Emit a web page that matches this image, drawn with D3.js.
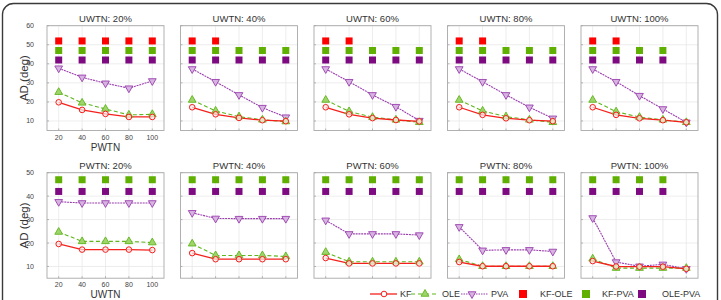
<!DOCTYPE html>
<html><head><meta charset="utf-8">
<script src="https://cdn.jsdelivr.net/npm/d3@7"></script>
<style>body{margin:0;background:#fff}svg{display:block;font-family:"Liberation Sans",Arial,sans-serif}</style>
</head><body><svg id="c" width="721" height="300"></svg>
<script>
const xVals = [20, 40, 60, 80, 100];
const topTitles = ["UWTN: 20%", "UWTN: 40%", "UWTN: 60%", "UWTN: 80%", "UWTN: 100%"];
const botTitles = ["PWTN: 20%", "PWTN: 40%", "PWTN: 60%", "PWTN: 80%", "PWTN: 100%"];
const topYTicks = [10, 20, 30, 40, 50, 60];
const botYTicks = [10, 20, 30, 40, 50];

const topKF = [
  [19.8, 15.8, 13.7, 12.1, 12.1],
  [17.2, 13.5, 11.6, 10.4, 9.9],
  [17.2, 13.5, 11.5, 10.5, 9.8],
  [17.2, 13.2, 11.4, 10.4, 9.9],
  [17.2, 13.2, 11.4, 10.4, 9.3]];
const topOLE = [
  [25.1, 19.5, 16.3, 13.2, 13.5],
  [21.0, 15.3, 12.3, 10.6, 9.7],
  [21.0, 15.0, 12.0, 10.6, 9.3],
  [21.0, 15.3, 12.3, 10.6, 9.3],
  [21.0, 14.9, 12.0, 10.6, 9.3]];
const topPVA = [
  [37.7, 32.9, 29.8, 27.2, 31.0],
  [37.3, 30.6, 23.7, 17.0, 12.0],
  [37.3, 30.6, 23.7, 17.5, 10.2],
  [37.3, 30.6, 23.7, 17.2, 11.4],
  [37.3, 30.6, 23.3, 16.3, 9.3]];
const botKF = [
  [19.6, 17.2, 17.2, 17.2, 17.0],
  [15.7, 13.1, 13.1, 13.1, 13.1],
  [13.6, 11.3, 11.3, 11.3, 11.3],
  [11.9, 10.1, 10.1, 10.1, 10.1],
  [12.3, 10.0, 9.9, 9.9, 9.0]];
const botOLE = [
  [24.7, 20.7, 20.7, 20.7, 20.2],
  [19.7, 14.7, 14.7, 14.7, 14.3],
  [16.1, 12.0, 12.0, 12.0, 12.0],
  [13.0, 10.1, 10.1, 10.1, 10.1],
  [13.3, 9.3, 9.3, 9.3, 9.3]];
const botPVA = [
  [37.6, 37.1, 37.1, 37.1, 37.1],
  [32.9, 30.5, 30.4, 30.4, 30.4],
  [29.7, 23.9, 23.9, 23.9, 23.4],
  [26.9, 16.9, 17.1, 17.1, 16.4],
  [30.7, 11.9, 10.1, 10.9, 9.0]];

// significance markers: x positions where each pair differs
const topSigKFOLE = [[20,40,60,80,100],[20,40],[20,40],[20,40],[20,40]];
const topSigKFPVA = [[20,40,60,80,100],[20,40,60,80,100],[20,40,60,80,100],[20,40,60,80,100],[20,40,60,80]];
const topSigOLEPVA = [[20,40,60,80,100],[20,40,60,80,100],[20,40,60,80,100],[20,40,60,80,100],[20,40,60,80]];
const botSigKFOLE = [[],[],[],[],[]];
const botSigKFPVA = [[20,40,60,80,100],[20,40,60,80,100],[20,40,60,80,100],[20,40,60,80,100],[20,40,60,80]];
const botSigOLEPVA = [[20,40,60,80,100],[20,40,60,80,100],[20,40,60,80,100],[20,40,60,80,100],[20,40,60,80]];
const sigLevels = [52, 47, 42]; // KF-OLE, KF-PVA, OLE-PVA

const legendNames = ["KF", "OLE", "PVA", "KF-OLE", "KF-PVA", "OLE-PVA"];

const C = {kf: "#f5201c", ole: "#5fb51a", pva: "#9a3fae",
  sq: ["#ff0000", "#5fb000", "#7e0a82"]};

const svg = d3.select("#c");
svg.append("rect").attr("x", 2.5).attr("y", 3.5).attr("width", 715).attr("height", 320)
  .attr("rx", 11).attr("fill", "none").attr("stroke", "#3a3a3a").attr("stroke-width", 1.4);

const panelW = 117, left0 = 47, step = 133.5;
const rows = [
  {top: 25.7, bottom: 130.5, ymax: 60, ticks: topYTicks, titles: topTitles,
   kf: topKF, ole: topOLE, pva: topPVA, sig: [topSigKFOLE, topSigKFPVA, topSigOLEPVA], xlabel: "PWTN"},
  {top: 172.7, bottom: 278.2, ymax: 50, ticks: botYTicks, titles: botTitles,
   kf: botKF, ole: botOLE, pva: botPVA, sig: [botSigKFOLE, botSigKFPVA, botSigOLEPVA], xlabel: "UWTN"}
];

const tri = d3.symbol().type(d3.symbolTriangle).size(26);

rows.forEach((row, ri) => {
  const y = d3.scaleLinear().domain([5, row.ymax]).range([row.bottom, row.top]);
  for (let p = 0; p < 5; p++) {
    const x0 = left0 + p * step;
    const x = d3.scaleLinear().domain([10, 110]).range([x0, x0 + panelW]);
    const g = svg.append("g");
    g.selectAll(".gx").data(xVals).join("line")
      .attr("x1", d => x(d)).attr("x2", d => x(d)).attr("y1", row.top).attr("y2", row.bottom)
      .attr("stroke", "#e9e9e9").attr("stroke-width", 0.8);
    g.selectAll(".gy").data(row.ticks).join("line")
      .attr("x1", x0).attr("x2", x0 + panelW).attr("y1", d => y(d)).attr("y2", d => y(d))
      .attr("stroke", "#e9e9e9").attr("stroke-width", 0.8);
    g.selectAll(".tx").data(xVals).join("line")
      .attr("x1", d => x(d)).attr("x2", d => x(d)).attr("y1", row.bottom).attr("y2", row.bottom - 2)
      .attr("stroke", "#999").attr("stroke-width", 0.7);
    g.selectAll(".ty").data(row.ticks).join("line")
      .attr("x1", x0).attr("x2", x0 + 2).attr("y1", d => y(d)).attr("y2", d => y(d))
      .attr("stroke", "#999").attr("stroke-width", 0.7);
    g.append("rect").attr("x", x0).attr("y", row.top).attr("width", panelW)
      .attr("height", row.bottom - row.top).attr("fill", "none").attr("stroke", "#a8a8a8").attr("stroke-width", 0.9);
    g.append("text").attr("x", x0 + panelW / 2).attr("y", row.top - 4).attr("text-anchor", "middle")
      .attr("font-size", 9.5).attr("fill", "#333").text(row.titles[p]);
    if (p === 0) {
      g.selectAll(".yl").data(row.ticks).join("text")
        .attr("x", x0 - 13).attr("y", d => y(d) + 2.5).attr("text-anchor", "end")
        .attr("font-size", 7).attr("fill", "#444").text(d => d);
      g.selectAll(".xl").data(xVals).join("text")
        .attr("x", d => x(d)).attr("y", row.bottom + 9).attr("text-anchor", "middle")
        .attr("font-size", 7).attr("fill", "#444").text(d => d);
      g.append("text").attr("x", x0 + panelW / 2).attr("y", row.bottom + 20).attr("text-anchor", "middle")
        .attr("font-size", 10).attr("fill", "#333").text(row.xlabel);
      const cy = (row.top + row.bottom) / 2;
      g.append("text").attr("transform", `translate(${x0 - 19},${cy}) rotate(-90)`)
        .attr("text-anchor", "middle").attr("font-size", 11.5).attr("fill", "#333").text("AD (deg)");
    }
    row.sig.forEach((arr, si) => {
      g.selectAll(".sq" + si).data(arr[p]).join("rect")
        .attr("x", d => x(d) - 3.5).attr("y", y(sigLevels[si]) - 3.5).attr("width", 7).attr("height", 7)
        .attr("fill", C.sq[si]);
    });
    const line = d3.line().x((d, i) => x(xVals[i])).y(d => y(d));
    g.append("path").datum(row.pva[p]).attr("d", line).attr("fill", "none")
      .attr("stroke", C.pva).attr("stroke-width", 1.1).attr("stroke-dasharray", "2,0.8");
    g.append("path").datum(row.ole[p]).attr("d", line).attr("fill", "none")
      .attr("stroke", C.ole).attr("stroke-width", 1.1).attr("stroke-dasharray", "4,2.5");
    g.append("path").datum(row.kf[p]).attr("d", line).attr("fill", "none")
      .attr("stroke", C.kf).attr("stroke-width", 1.3);
    g.selectAll(".mp").data(row.pva[p]).join("path")
      .attr("d", tri).attr("transform", (d, i) => `translate(${x(xVals[i])},${y(d)}) rotate(180)`)
      .attr("fill", "#d6b3e0").attr("stroke", C.pva).attr("stroke-width", 0.9);
    g.selectAll(".mo").data(row.ole[p]).join("path")
      .attr("d", tri).attr("transform", (d, i) => `translate(${x(xVals[i])},${y(d)})`)
      .attr("fill", "#9fd36b").attr("stroke", C.ole).attr("stroke-width", 0.9);
    g.selectAll(".mk").data(row.kf[p]).join("circle")
      .attr("cx", (d, i) => x(xVals[i])).attr("cy", d => y(d)).attr("r", 2.8)
      .attr("fill", "rgba(255,235,235,0.7)").attr("stroke", C.kf).attr("stroke-width", 1);
  }
});

// legend
const ly = 297;
const lg = svg.append("g").attr("font-size", 9).attr("fill", "#333");
const lineItems = [
  {x1: 370, x2: 397, mx: 384, name: legendNames[0], tx: 400, kind: "kf"},
  {x1: 411, x2: 438, mx: 425, name: legendNames[1], tx: 442, kind: "ole"},
  {x1: 461, x2: 488, mx: 472, name: legendNames[2], tx: 491, kind: "pva"}];
lineItems.forEach(it => {
  const st = it.kind === "kf" ? {c: C.kf, d: null, w: 1.3} : it.kind === "ole" ? {c: C.ole, d: "4,3", w: 1.1} : {c: C.pva, d: "1.5,1", w: 1};
  lg.append("line").attr("x1", it.x1).attr("x2", it.x2).attr("y1", ly - 3).attr("y2", ly - 3)
    .attr("stroke", st.c).attr("stroke-width", st.w).attr("stroke-dasharray", st.d);
  if (it.kind === "kf") lg.append("circle").attr("cx", it.mx).attr("cy", ly - 3).attr("r", 2.8)
    .attr("fill", "#fff").attr("stroke", C.kf);
  else if (it.kind === "ole") lg.append("path").attr("d", tri).attr("transform", `translate(${it.mx},${ly - 3})`)
    .attr("fill", "#9fd36b").attr("stroke", C.ole).attr("stroke-width", 0.9);
  else lg.append("path").attr("d", tri).attr("transform", `translate(${it.mx},${ly - 3}) rotate(180)`)
    .attr("fill", "#d6b3e0").attr("stroke", C.pva).attr("stroke-width", 0.9);
  lg.append("text").attr("x", it.tx).attr("y", ly).text(it.name);
});
const sqItems = [{cx: 523, tx: 540}, {cx: 586, tx: 602}, {cx: 642, tx: 662}];
sqItems.forEach((it, i) => {
  lg.append("rect").attr("x", it.cx - 4).attr("y", ly - 7).attr("width", 8).attr("height", 8).attr("fill", C.sq[i]);
  lg.append("text").attr("x", it.tx).attr("y", ly).text(legendNames[3 + i]);
});
</script></body></html>
